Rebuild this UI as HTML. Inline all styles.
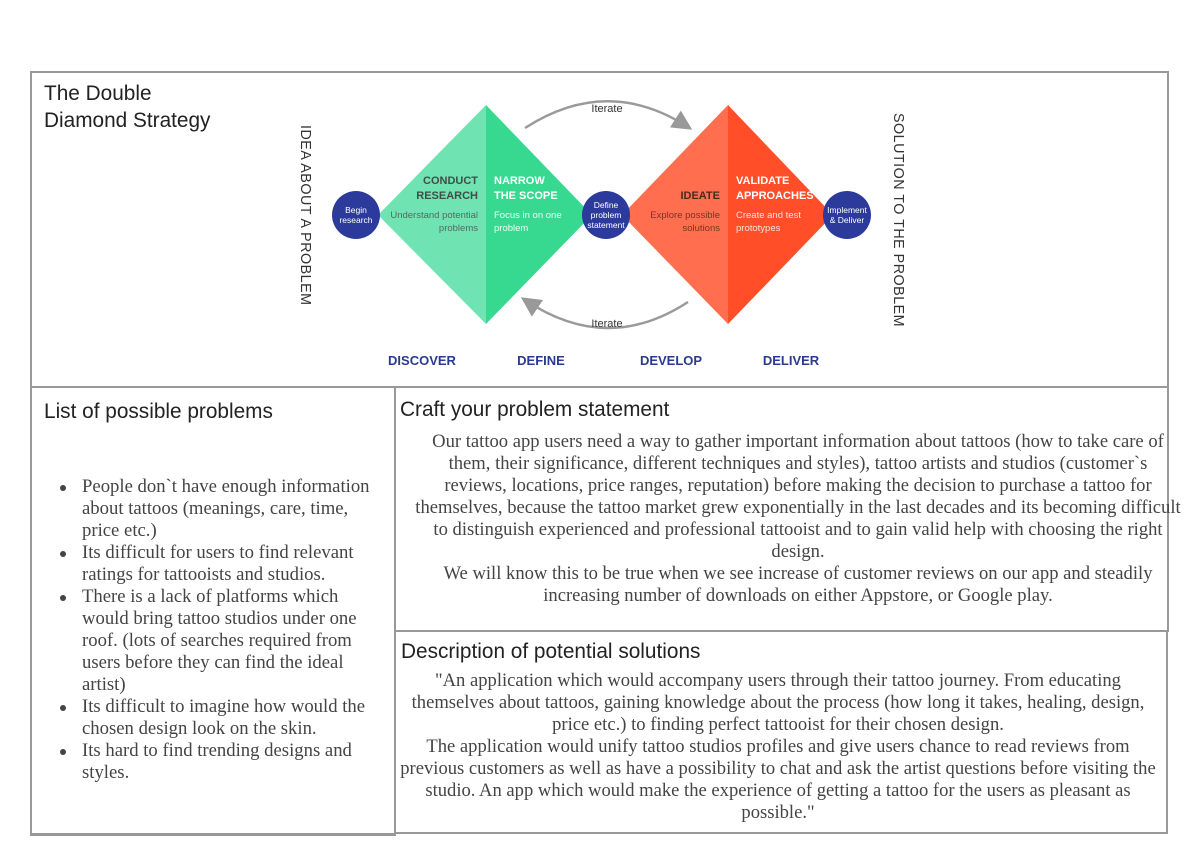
<!DOCTYPE html>
<html><head><meta charset="utf-8"><style>
body{margin:0;width:1200px;height:848px;background:#fff;position:relative;overflow:hidden;font-family:"Liberation Serif",serif;color:#444}
.b{position:absolute;border:2px solid #999;box-sizing:border-box}
.h{position:absolute;font-family:"Liberation Sans",sans-serif;font-size:20.8px;color:#222}
.t{position:absolute;font-size:18.6px;line-height:22px;text-align:center;white-space:nowrap}
ul{position:absolute;margin:0;padding:0;list-style:none;font-size:18.7px;line-height:22px;white-space:nowrap}
li{position:relative;padding-left:0}
li:before{content:"";position:absolute;left:-22px;top:9px;width:6px;height:6px;border-radius:3px;background:#444}
</style></head><body>
<div class="b" style="left:30px;top:71px;width:1139px;height:317px"></div>
<div class="b" style="left:30px;top:386px;width:366px;height:450px;border-bottom-width:3px"></div>
<div class="b" style="left:394px;top:386px;width:775px;height:246px"></div>
<div class="b" style="left:394px;top:630px;width:774px;height:204px"></div>

<div class="h" style="left:44px;top:80px;line-height:27px">The Double<br>Diamond Strategy</div>
<div class="h" style="left:44px;top:400px">List of possible problems</div>
<div class="h" style="left:400px;top:398px">Craft your problem statement</div>
<div class="h" style="left:401px;top:640px">Description of potential solutions</div>

<svg style="position:absolute;left:0;top:0" width="1200" height="848" font-family="Liberation Sans,sans-serif">
<defs><marker id="a" markerWidth="8" markerHeight="8" refX="6" refY="4" orient="auto"><path d="M0,0 L8,4 L0,8 z" fill="#999"/></marker></defs>
<polygon points="378,215 486,105 486,324" fill="#6fe4b2"/>
<polygon points="486,105 592,215 486,324" fill="#37d991"/>
<polygon points="622,215 728,105 728,324" fill="#ff6f4f"/>
<polygon points="728,105 833,215 728,324" fill="#ff4e28"/>
<path d="M525,128 Q607,75 688,127" fill="none" stroke="#9a9a9a" stroke-width="2.5" marker-end="url(#a)"/>
<path d="M688,302 Q607,355 525,300" fill="none" stroke="#9a9a9a" stroke-width="2.5" marker-end="url(#a)"/>
<text x="607" y="112" font-size="11" text-anchor="middle" fill="#333">Iterate</text>
<text x="607" y="327" font-size="11" text-anchor="middle" fill="#333">Iterate</text>
<ellipse cx="356" cy="215" rx="24" ry="24" fill="#2b3a9b"/>
<ellipse cx="606" cy="215" rx="24" ry="24" fill="#2b3a9b"/>
<ellipse cx="847" cy="215" rx="24" ry="24" fill="#2b3a9b"/>
<g fill="#fff" font-size="8.5" text-anchor="middle">
<text x="356" y="213">Begin</text><text x="356" y="223">research</text>
<text x="606" y="208">Define</text><text x="606" y="218">problem</text><text x="606" y="228">statement</text>
<text x="847" y="213">Implement</text><text x="847" y="223">&amp; Deliver</text>
</g>
<g font-size="11" font-weight="bold">
<text x="478" y="184" text-anchor="end" fill="#3d5045">CONDUCT</text>
<text x="478" y="199" text-anchor="end" fill="#3d5045">RESEARCH</text>
<text x="494" y="184" fill="#fff">NARROW</text>
<text x="494" y="199" fill="#fff">THE SCOPE</text>
<text x="720" y="199" text-anchor="end" fill="#4a2a20">IDEATE</text>
<text x="736" y="184" fill="#fff">VALIDATE</text>
<text x="736" y="199" fill="#fff">APPROACHES</text>
</g>
<g font-size="9.5">
<text x="478" y="218" text-anchor="end" fill="#4f6d5c">Understand potential</text>
<text x="478" y="231" text-anchor="end" fill="#4f6d5c">problems</text>
<text x="494" y="218" fill="#e8fff3">Focus in on one</text>
<text x="494" y="231" fill="#e8fff3">problem</text>
<text x="720" y="218" text-anchor="end" fill="#7a3322">Explore possible</text>
<text x="720" y="231" text-anchor="end" fill="#7a3322">solutions</text>
<text x="736" y="218" fill="#ffe2d8">Create and test</text>
<text x="736" y="231" fill="#ffe2d8">prototypes</text>
</g>
<g font-size="13" font-weight="bold" fill="#2b3a8f" text-anchor="middle">
<text x="422" y="365">DISCOVER</text><text x="541" y="365">DEFINE</text>
<text x="671" y="365">DEVELOP</text><text x="791" y="365">DELIVER</text>
</g>
<text transform="translate(301,125) rotate(90)" font-size="14.3" fill="#333" letter-spacing="0.5">IDEA ABOUT A PROBLEM</text>
<text transform="translate(894,113) rotate(90)" font-size="14.3" fill="#333" letter-spacing="0.5">SOLUTION TO THE PROBLEM</text>
</svg>

<ul style="left:82px;top:476px">
<li>People don`t have enough information<br>about tattoos (meanings, care, time,<br>price etc.)</li>
<li>Its difficult for users to find relevant<br>ratings for tattooists and studios.</li>
<li>There is a lack of platforms which<br>would bring tattoo studios under one<br>roof. (lots of searches required from<br>users before they can find the ideal<br>artist)</li>
<li>Its difficult to imagine how would the<br>chosen design look on the skin.</li>
<li>Its hard to find trending designs and<br>styles.</li>
</ul>

<div class="t" style="left:398px;width:800px;top:431px">Our tattoo app users need a way to gather important information about tattoos (how to take care of<br>them, their significance, different techniques and styles), tattoo artists and studios (customer`s<br>reviews, locations, price ranges, reputation) before making the decision to purchase a tattoo for<br>themselves, because the tattoo market grew exponentially in the last decades and its becoming difficult<br>to distinguish experienced and professional tattooist and to gain valid help with choosing the right<br>design.<br>We will know this to be true when we see increase of customer reviews on our app and steadily<br>increasing number of downloads on either Appstore, or Google play.</div>

<div class="t" style="left:396px;width:764px;top:670px">"An application which would accompany users through their tattoo journey. From educating<br>themselves about tattoos, gaining knowledge about the process (how long it takes, healing, design,<br>price etc.) to finding perfect tattooist for their chosen design.<br>The application would unify tattoo studios profiles and give users chance to read reviews from<br>previous customers as well as have a possibility to chat and ask the artist questions before visiting the<br>studio. An app which would make the experience of getting a tattoo for the users as pleasant as<br>possible."</div>
</body></html>
